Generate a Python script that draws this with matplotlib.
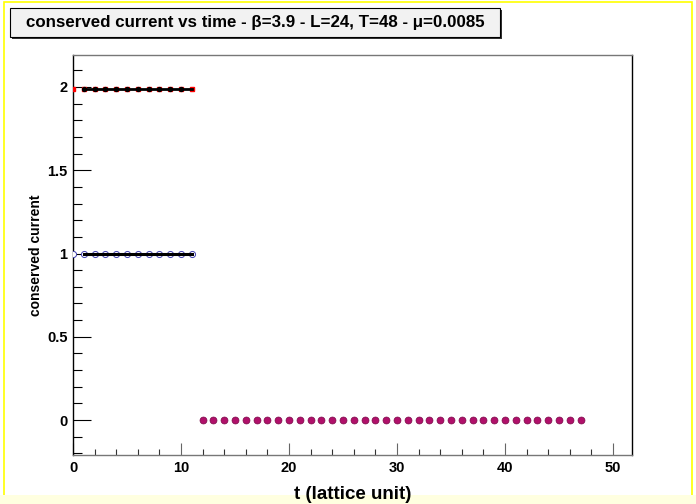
import matplotlib.pyplot as plt
from matplotlib.patches import Rectangle
from matplotlib.ticker import MultipleLocator

plt.rcParams["font.family"] = ["Liberation Sans", "DejaVu Sans"]

# data
t_red = list(range(0, 12))
j_red = [1.99] * 12
t_black_top = list(range(1, 11))
j_black_top = [1.99] * 10
t_blue = list(range(0, 12))
j_blue = [1.0] * 12
t_black_mid = list(range(1, 12))
j_black_mid = [1.0] * 11
t_zero = list(range(12, 48))
j_zero = [0.0] * 36

title = "conserved current vs time - \u03b2=3.9 - L=24, T=48 - \u03bc=0.0085"

fig = plt.figure(figsize=(6.96, 5.04), dpi=100)
fig.patch.set_facecolor("white")

# yellow canvas frame
fig.add_artist(Rectangle((0.006, 0.012), 0.988, 0.984, transform=fig.transFigure,
                         fill=False, edgecolor="#ffff00", lw=1.2, zorder=0))
fig.add_artist(Rectangle((0.0, 0.0), 1.0, 0.018, transform=fig.transFigure,
                         facecolor="#ffffe0", edgecolor="none", zorder=0))

ax = fig.add_axes([73 / 696, 49 / 504, 559 / 696, 400 / 504])
ax.set_zorder(1)

ax.plot(t_red, j_red, "s", color="red", ms=2.8, zorder=3)
ax.plot([1, 11], [1.99, 1.99], "-", color="black", lw=2, zorder=4)
ax.plot(t_black_top, j_black_top, "o", color="black", ms=2.8, zorder=5)
ax.plot(t_blue, j_blue, "o", mfc="white", mec="#4040b0", mew=0.7, ms=4.4, zorder=3)
ax.plot(t_black_mid, j_black_mid, "-", color="black", lw=2.2, zorder=4)
ax.plot(t_zero, j_zero, "o", mfc="#b0106a", mec="#7a0848", mew=0.5, ms=5, zorder=3)

ax.set_xlim(0, 51.76)
ax.set_ylim(-0.21, 2.192)

ax.xaxis.set_major_locator(MultipleLocator(10))
ax.xaxis.set_minor_locator(MultipleLocator(2))
ax.yaxis.set_major_locator(MultipleLocator(0.5))
ax.yaxis.set_minor_locator(MultipleLocator(0.1))
ax.yaxis.set_major_formatter(plt.FuncFormatter(lambda v, p: f"{v:g}"))

ax.tick_params(axis="y", which="major", direction="in", length=13, width=0.8, pad=4)
ax.tick_params(axis="y", which="minor", direction="in", length=6.5, width=0.8)
ax.tick_params(axis="x", which="major", direction="in", length=9, width=0.8, pad=4, color="#666666")
ax.tick_params(axis="x", which="minor", direction="in", length=4.5, width=0.8, color="#333333")
ax.tick_params(top=False, right=False, which="both", labelsize=10.5)
for lab in ax.get_xticklabels() + ax.get_yticklabels():
    lab.set_fontweight("bold")

for side in ["left", "right"]:
    ax.spines[side].set_color("black")
    ax.spines[side].set_linewidth(1.0)
for side in ["top", "bottom"]:
    ax.spines[side].set_color("#777777")
    ax.spines[side].set_linewidth(1.0)

ax.set_xlabel("t (lattice unit)", fontsize=13.5, fontweight="bold", labelpad=8)
ax.set_ylabel("conserved current", fontsize=10, fontweight="bold", labelpad=3)

# title box
fig.add_artist(Rectangle((12 / 696, 1 - 39 / 504), 490 / 696, 29 / 504, transform=fig.transFigure,
                         facecolor="#333333", edgecolor="none"))
fig.add_artist(Rectangle((10 / 696, 1 - 37 / 504), 490 / 696, 29 / 504, transform=fig.transFigure,
                         facecolor="#f2f2f2", edgecolor="black", lw=0.8))
fig.text(255 / 696, 1 - 22.5 / 504, title, ha="center", va="center",
         fontsize=12.2, fontweight="bold")

fig.savefig("out.png", dpi=100)
